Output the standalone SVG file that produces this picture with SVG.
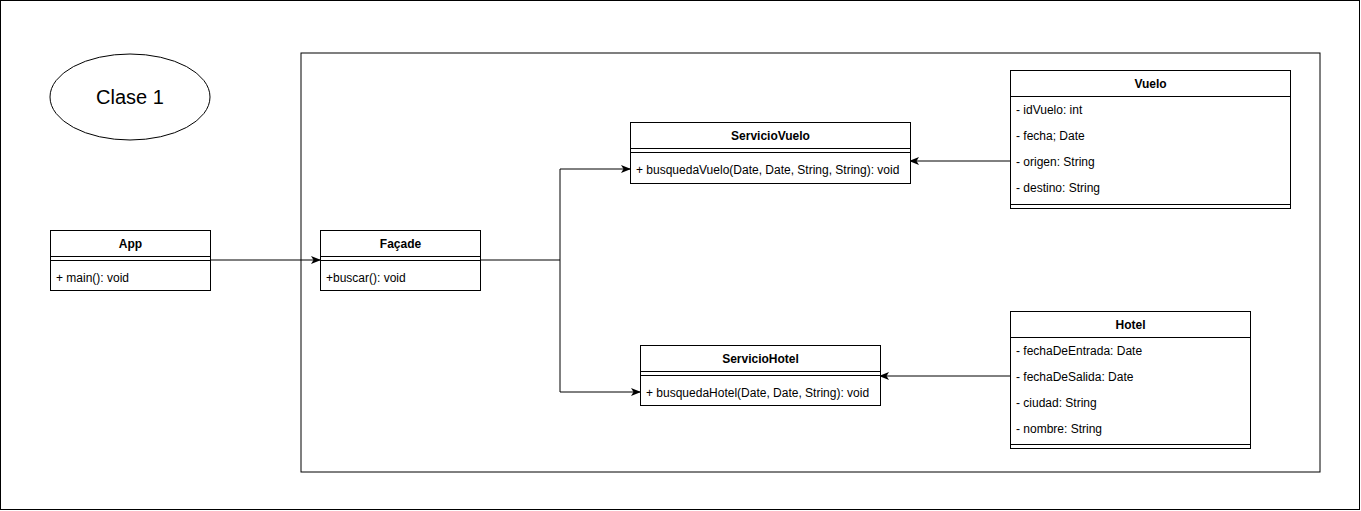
<svg xmlns="http://www.w3.org/2000/svg" width="1361" height="511" viewBox="0 0 1361 511">
<style>
.box{fill:#fff;stroke:#000;stroke-width:1}
.ln{stroke:#000;stroke-width:1;fill:none}
.t{font-family:"Liberation Sans",Arial,sans-serif;font-size:12px;fill:#000}
.h{font-family:"Liberation Sans",Arial,sans-serif;font-size:12px;font-weight:bold;fill:#000;text-anchor:middle}
.big{font-family:"Liberation Sans",Arial,sans-serif;font-size:20px;fill:#000;text-anchor:middle}
</style>
<defs>
<marker id="arr" viewBox="0 0 10 8" refX="9" refY="4" markerWidth="10" markerHeight="8" markerUnits="userSpaceOnUse" orient="auto">
<path d="M0,0 L10,4 L0,8 L2.5,4 Z" fill="#000"/>
</marker>
</defs>
<rect x="0" y="0" width="1361" height="511" fill="#fff"/>
<rect x="0.5" y="0.5" width="1359" height="509" class="box"/>
<rect id="container" x="301" y="53" width="1019" height="419" class="box"/>
<g id="clase1">
<ellipse cx="130" cy="97" rx="80" ry="43" class="box"/>
<text x="130" y="104" class="big">Clase 1</text>
</g>
<g id="connectors">
<line x1="210" y1="260" x2="320" y2="260" class="ln" marker-end="url(#arr)"/>
<polyline points="480,260 560,260 560,169 630,169" class="ln" marker-end="url(#arr)"/>
<polyline points="560,260 560,392 640,392" class="ln" marker-end="url(#arr)"/>
<line x1="1010" y1="161" x2="910" y2="161" class="ln" marker-end="url(#arr)"/>
<line x1="1010" y1="376" x2="880" y2="376" class="ln" marker-end="url(#arr)"/>
</g>
<g id="app">
<rect x="50.5" y="230.5" width="160" height="60" class="box"/>
<line x1="50.5" y1="256.5" x2="210.5" y2="256.5" class="ln"/>
<line x1="50.5" y1="260.5" x2="210.5" y2="260.5" class="ln"/>
<text x="130.5" y="248" class="h">App</text>
<text x="56" y="282" class="t">+ main(): void</text>
</g>
<g id="facade">
<rect x="320.5" y="230.5" width="160" height="60" class="box"/>
<line x1="320.5" y1="256.5" x2="480.5" y2="256.5" class="ln"/>
<line x1="320.5" y1="260.5" x2="480.5" y2="260.5" class="ln"/>
<text x="400.5" y="248" class="h">Façade</text>
<text x="326" y="282" class="t">+buscar(): void</text>
</g>
<g id="servicioVuelo">
<rect x="630.5" y="122.5" width="280" height="61" class="box"/>
<line x1="630.5" y1="148.5" x2="910.5" y2="148.5" class="ln"/>
<line x1="630.5" y1="152.5" x2="910.5" y2="152.5" class="ln"/>
<text x="770.5" y="140" class="h">ServicioVuelo</text>
<text x="636" y="174" class="t">+ busquedaVuelo(Date, Date, String, String): void</text>
</g>
<g id="servicioHotel">
<rect x="640.5" y="345.5" width="240" height="60" class="box"/>
<line x1="640.5" y1="371.5" x2="880.5" y2="371.5" class="ln"/>
<line x1="640.5" y1="375.5" x2="880.5" y2="375.5" class="ln"/>
<text x="760.5" y="363" class="h">ServicioHotel</text>
<text x="646" y="397" class="t">+ busquedaHotel(Date, Date, String): void</text>
</g>
<g id="vuelo">
<rect x="1010.5" y="70.5" width="280" height="138" class="box"/>
<line x1="1010.5" y1="96.5" x2="1290.5" y2="96.5" class="ln"/>
<line x1="1010.5" y1="204.5" x2="1290.5" y2="204.5" class="ln"/>
<text x="1150.5" y="88" class="h">Vuelo</text>
<text x="1016" y="114" class="t">- idVuelo: int</text>
<text x="1016" y="140" class="t">- fecha; Date</text>
<text x="1016" y="166" class="t">- origen: String</text>
<text x="1016" y="192" class="t">- destino: String</text>
</g>
<g id="hotel">
<rect x="1010.5" y="311.5" width="240" height="137" class="box"/>
<line x1="1010.5" y1="337.5" x2="1250.5" y2="337.5" class="ln"/>
<line x1="1010.5" y1="444.5" x2="1250.5" y2="444.5" class="ln"/>
<text x="1130.5" y="329" class="h">Hotel</text>
<text x="1016" y="355" class="t">- fechaDeEntrada: Date</text>
<text x="1016" y="381" class="t">- fechaDeSalida: Date</text>
<text x="1016" y="407" class="t">- ciudad: String</text>
<text x="1016" y="433" class="t">- nombre: String</text>
</g>
</svg>
